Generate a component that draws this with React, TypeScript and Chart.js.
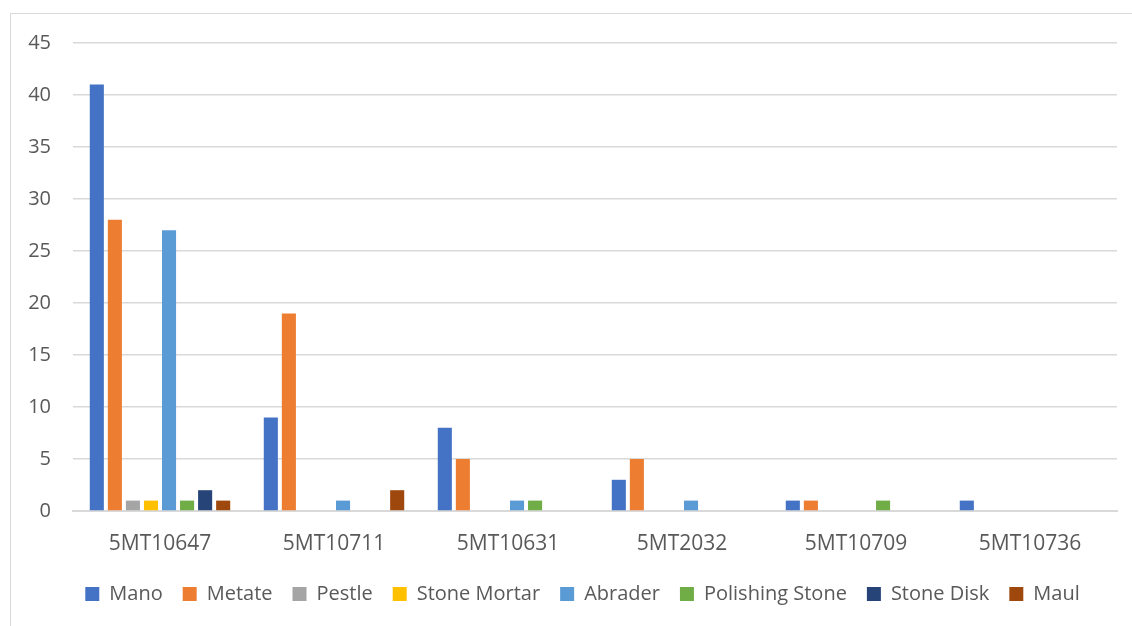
import React, { useEffect, useRef } from "react";
import { Chart, registerables } from "chart.js";

Chart.register(...registerables);

const categories = ["5MT10647", "5MT10711", "5MT10631", "5MT2032", "5MT10709", "5MT10736"];
const seriesNames = ["Mano", "Metate", "Pestle", "Stone Mortar", "Abrader", "Polishing Stone", "Stone Disk", "Maul"];
const mano = [41, 9, 8, 3, 1, 1];
const metate = [28, 19, 5, 5, 1, 0];
const pestle = [1, 0, 0, 0, 0, 0];
const stoneMortar = [1, 0, 0, 0, 0, 0];
const abrader = [27, 1, 1, 1, 0, 0];
const polishingStone = [1, 0, 1, 0, 1, 0];
const stoneDisk = [2, 0, 0, 0, 0, 0];
const maul = [1, 2, 0, 0, 0, 0];
const yTicks = [0, 5, 10, 15, 20, 25, 30, 35, 40, 45];

const seriesValues = [mano, metate, pestle, stoneMortar, abrader, polishingStone, stoneDisk, maul];
const colors = ["#4472C4", "#ED7D31", "#A5A5A5", "#FFC000", "#5B9BD5", "#70AD47", "#264478", "#9E480E"];

const FONT = "'Open Sans', 'DejaVu Sans', sans-serif";
const TEXT = "#595959";

const borderPlugin = {
  id: "frameBorder",
  beforeDraw(chart: any) {
    const ctx = chart.ctx;
    ctx.save();
    ctx.fillStyle = "#ffffff";
    ctx.fillRect(0, 0, chart.width, chart.height);
    ctx.strokeStyle = "#D9D9D9";
    ctx.lineWidth = 1;
    ctx.strokeRect(10.5, 13.5, 1400, 900);
    ctx.restore();
  },
  afterLayout(chart: any) {
    const lg = chart.legend;
    if (lg) {
      lg.left = 48;
      lg.right = chart.chartArea.right;
      lg.width = lg.right - lg.left;
    }
  },
};

export default function App() {
  const ref = useRef<HTMLCanvasElement>(null);
  useEffect(() => {
    if (!ref.current) return;
    const chart = new Chart(ref.current, {
      type: "bar",
      data: {
        labels: categories,
        datasets: seriesNames.map((name, i) => ({
          label: name,
          data: seriesValues[i],
          backgroundColor: colors[i],
          borderWidth: 0,
          categoryPercentage: 0.83,
          barPercentage: 0.78,
        })),
      },
      options: {
        responsive: false,
        animation: false,
        devicePixelRatio: 1,
        layout: { padding: { left: 10, right: 15, top: 43, bottom: 12 } },
        plugins: {
          tooltip: { enabled: false },
          legend: {
            position: "bottom",
            labels: {
              boxWidth: 14,
              boxHeight: 14,
              color: TEXT,
              font: { family: FONT, size: 20 },
              padding: 20,
            },
          },
        },
        scales: {
          x: {
            grid: { display: false, drawTicks: false },
            border: { display: true, color: "#D9D9D9", width: 2 },
            ticks: { color: TEXT, font: { family: FONT, size: 21 }, padding: 20, maxRotation: 0 },
            afterFit(scale: any) {
              scale.height = 53;
            },
          },
          y: {
            min: 0,
            max: 45,
            grid: { color: "#D9D9D9", lineWidth: 1.5, drawTicks: false },
            border: { display: false },
            ticks: {
              stepSize: 5,
              color: TEXT,
              font: { family: FONT, size: 20 },
              padding: 22,
              callback: (v: any) => (yTicks.includes(Number(v)) ? String(v) : ""),
            },
            afterFit(scale: any) {
              scale.width = 63;
            },
          },
        },
      },
      plugins: [borderPlugin],
    });
    return () => chart.destroy();
  }, []);
  return (
    <div style={{ position: "fixed", left: 0, top: 0, width: 1132, height: 626, background: "#fff" }}>
      <canvas ref={ref} width={1132} height={626} />
    </div>
  );
}
